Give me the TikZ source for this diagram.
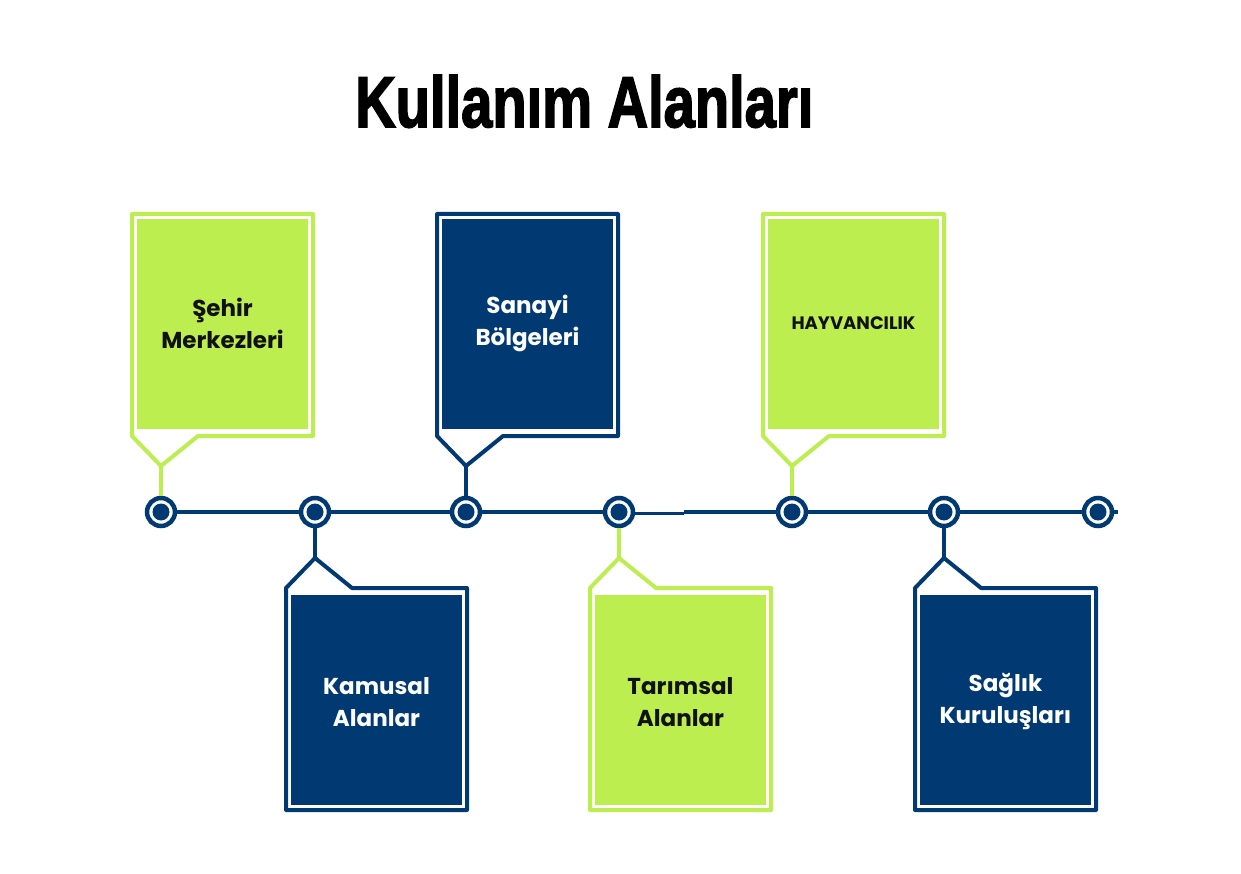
\documentclass[tikz,border=0pt]{standalone}
\usepackage{fontspec}
\setmainfont{Poppins}
\newfontfamily\titlefont{Liberation Sans}[BoldFeatures={FakeBold=2.5}]
\definecolor{navy}{HTML}{013A73}
\definecolor{lime}{HTML}{BCEE50}
\definecolor{ink}{HTML}{111111}
\tikzset{
  dot/.style={circle, minimum size=28pt, inner sep=0pt, draw=navy, line width=4.5pt, fill=white,
    path picture={\fill[navy] (path picture bounding box.center) circle (8.5pt);}},
  boxtext/.style={align=center, inner sep=0pt, font=\bfseries\fontsize{23}{32}\selectfont},
  outline/.style={line width=4pt, line join=round},
  stem/.style={line width=4pt},
  tline/.style={draw=navy, line width=4pt}
}
% #1 cx, #2 colour, #3 name, #4 text, #5 text colour, #6 circle name
\newcommand\upbox[6]{%
  \coordinate (#3tip) at (#1,466);
  \fill[#2] (#1-24,219) rectangle (#1+147,429);
  \draw[#2, outline] (#1,466) -- (#1-29,436) -- (#1-29,214) -- (#1+152,214) -- (#1+152,436) -- (#1+37,436) -- cycle;
  \node[boxtext, text=#5] (#3) at (#1+61.5,323) {#4};
  \draw[#2, stem] (#3tip) -- (#6);
}
\newcommand\downbox[6]{%
  \coordinate (#3tip) at (#1,558);
  \fill[#2] (#1-24,595) rectangle (#1+147,805);
  \draw[#2, outline] (#1,558) -- (#1-29,588) -- (#1-29,810) -- (#1+152,810) -- (#1+152,588) -- (#1+37,588) -- cycle;
  \node[boxtext, text=#5] (#3) at (#1+61.5,702) {#4};
  \draw[#2, stem] (#3tip) -- (#6);
}
\begin{document}
\begin{tikzpicture}[x=1pt,y=-1pt]
\useasboundingbox (0,0) rectangle (1241,874);
\fill[white] (0,0) rectangle (1241,874);
% title
\node[anchor=base west, inner sep=0pt] (title) at (355,127)
  {\resizebox{458pt}{52pt}{\titlefont\bfseries Kullanım Alanları}};
% timeline circles
\node[dot] (c1) at (161,512) {};
\node[dot] (c2) at (315,512) {};
\node[dot] (c3) at (466,512) {};
\node[dot] (c4) at (619,512) {};
\node[dot] (c5) at (792,512) {};
\node[dot] (c6) at (944,512) {};
\node[dot] (c7) at (1098,512) {};
\coordinate (brk) at (684,512);
\coordinate (brkl) at (684,513);
\coordinate (lend) at (1118,512);
\draw[tline] (c1) -- (c2);
\draw[tline] (c2) -- (c3);
\draw[tline] (c3) -- (c4);
\draw[navy, line width=3pt] (c4.east |- brkl) -- (brkl);
\draw[tline] (brk) -- (c5);
\draw[tline] (c5) -- (c6);
\draw[tline] (c6) -- (c7);
\draw[tline] (c7) -- (lend);
% boxes
\upbox{161}{lime}{b1}{Şehir\\Merkezleri}{ink}{c1}
\downbox{315}{navy}{b2}{Kamusal\\Alanlar}{white}{c2}
\upbox{466}{navy}{b3}{Sanayi\\Bölgeleri}{white}{c3}
\downbox{619}{lime}{b4}{Tarımsal\\Alanlar}{ink}{c4}
\upbox{792}{lime}{b5}{\fontsize{18}{22}\selectfont HAYVANCILIK}{ink}{c5}
\downbox{944}{navy}{b6}{Sağlık\\Kuruluşları}{white}{c6}
\end{tikzpicture}
\end{document}
